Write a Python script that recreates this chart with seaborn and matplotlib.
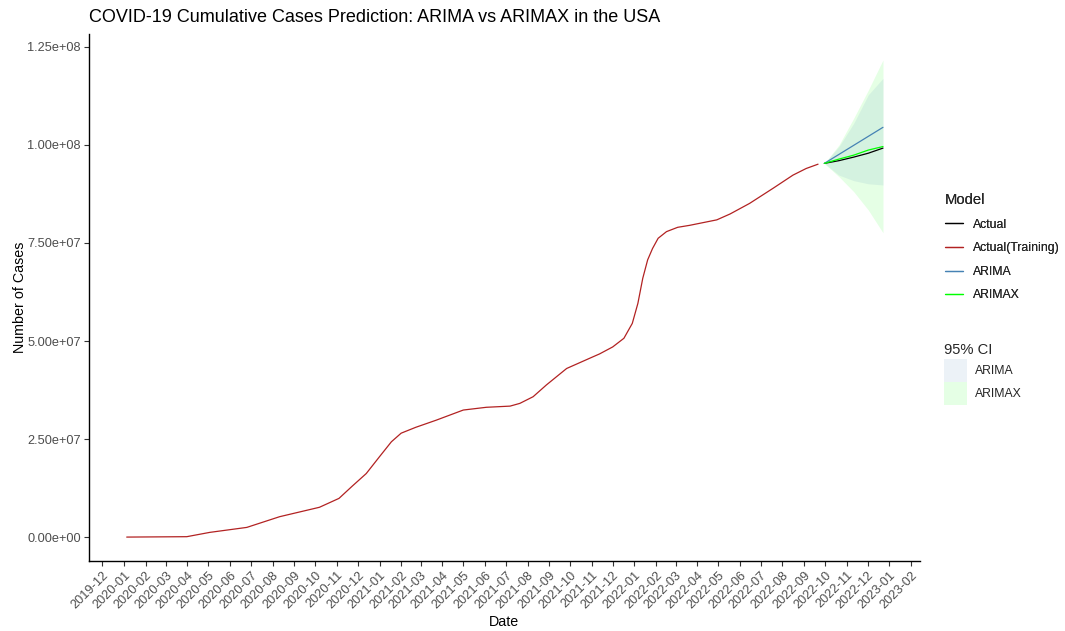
import matplotlib
matplotlib.use("Agg")
import matplotlib.pyplot as plt
from matplotlib.lines import Line2D
from matplotlib.patches import Patch
import seaborn as sns
import pandas as pd

# ---------------- data ----------------
train_dates = ["2020-01-05", "2020-03-31", "2020-05-03", "2020-06-25", "2020-08-11",
               "2020-10-07", "2020-11-04", "2020-11-23", "2020-12-13", "2021-01-01",
               "2021-01-18", "2021-02-01", "2021-02-22", "2021-03-23", "2021-05-01",
               "2021-06-03", "2021-07-07", "2021-07-21", "2021-08-09", "2021-08-28",
               "2021-09-26", "2021-11-03", "2021-11-12", "2021-12-01", "2021-12-17",
               "2021-12-29", "2022-01-06", "2022-01-13", "2022-01-20", "2022-01-27",
               "2022-02-04", "2022-02-16", "2022-03-04", "2022-03-21", "2022-04-29",
               "2022-05-18", "2022-06-15", "2022-07-19", "2022-08-16", "2022-09-04",
               "2022-09-21"]
train_values = [0.0, 0.1e6, 1.2e6, 2.47e6, 5.2e6,
                7.6e6, 9.87e6, 1.30e7, 1.62e7, 2.05e7,
                2.43e7, 2.65e7, 2.80e7, 2.98e7, 3.24e7,
                3.31e7, 3.34e7, 3.41e7, 3.58e7, 3.88e7,
                4.30e7, 4.60e7, 4.67e7, 4.85e7, 5.07e7,
                5.45e7, 5.96e7, 6.60e7, 7.07e7, 7.36e7,
                7.62e7, 7.79e7, 7.90e7, 7.95e7, 8.09e7,
                8.24e7, 8.51e7, 8.90e7, 9.23e7, 9.40e7,
                9.51e7]

fc_dates = ["2022-09-30", "2022-10-21", "2022-11-11", "2022-12-02", "2022-12-23"]
actual_values = [9.53e7, 9.60e7, 9.69e7, 9.79e7, 9.92e7]
arima_values = [9.53e7, 9.76e7, 9.99e7, 1.022e8, 1.045e8]
arimax_values = [9.53e7, 9.64e7, 9.74e7, 9.87e7, 9.96e7]
arima_lower = [9.53e7, 9.23e7, 9.09e7, 9.01e7, 8.98e7]
arima_upper = [9.53e7, 9.96e7, 1.055e8, 1.128e8, 1.170e8]
arimax_lower = [9.53e7, 9.19e7, 8.81e7, 8.34e7, 7.76e7]
arimax_upper = [9.53e7, 1.00e8, 1.068e8, 1.140e8, 1.217e8]

model_names = ["Actual", "Actual(Training)", "ARIMA", "ARIMAX"]
model_colors = ["#000000", "#B22222", "#4682B4", "#00FF00"]
ci_names = ["ARIMA", "ARIMAX"]
ci_colors = ["#4682B4", "#00FF00"]

# ---------------- build frames ----------------
train_df = pd.DataFrame({"Date": pd.to_datetime(train_dates), "Cases": train_values,
                         "Model": "Actual(Training)"})
fc = pd.to_datetime(fc_dates)
lines_df = pd.concat([
    train_df,
    pd.DataFrame({"Date": fc, "Cases": actual_values, "Model": "Actual"}),
    pd.DataFrame({"Date": fc, "Cases": arima_values, "Model": "ARIMA"}),
    pd.DataFrame({"Date": fc, "Cases": arimax_values, "Model": "ARIMAX"}),
], ignore_index=True)

# ---------------- style ----------------
sns.set_theme(style="ticks")
plt.rcParams["font.family"] = ["Liberation Sans", "DejaVu Sans"]

fig = plt.figure(figsize=(10.65, 6.31), dpi=100)
ax = fig.add_axes([89 / 1065, 1 - 561 / 631, (920 - 89) / 1065, (561 - 34) / 631])

ax.fill_between(fc, arimax_lower, arimax_upper, color=ci_colors[1], alpha=0.1, lw=0)
ax.fill_between(fc, arima_lower, arima_upper, color=ci_colors[0], alpha=0.1, lw=0)

palette = dict(zip(model_names, model_colors))
sns.lineplot(data=lines_df, x="Date", y="Cases", hue="Model", palette=palette,
             ax=ax, lw=0.9, legend=False, estimator=None, sort=True)

# ---------------- axes ----------------
ax.set_xlim(pd.Timestamp("2019-11-12"), pd.Timestamp("2023-02-14"))
ax.set_ylim(-6.1e6, 1.283e8)
ticks = pd.date_range("2019-12-01", "2023-02-01", freq="MS")
ax.set_xticks(ticks)
ax.set_xticklabels([t.strftime("%Y-%m") for t in ticks], rotation=45, ha="right",
                   rotation_mode="anchor", fontsize=9.2, color="#4D4D4D")
yt = [0, 2.5e7, 5e7, 7.5e7, 1e8, 1.25e8]
ax.set_yticks(yt)
ax.set_yticklabels([f"{v:.2e}" for v in yt], fontsize=9.2, color="#4D4D4D")
ax.tick_params(axis="both", length=3.5, width=0.8, color="#333333", pad=2.5)
for s in ["top", "right"]:
    ax.spines[s].set_visible(False)
for s in ["left", "bottom"]:
    ax.spines[s].set_linewidth(1.0)
    ax.spines[s].set_color("#000000")

ax.set_xlabel("Date", fontsize=10.3, color="black", labelpad=3)
ax.set_ylabel("Number of Cases", fontsize=10.3, color="black", labelpad=0)
fig.text(89 / 1065, 1 - 18 / 631, "COVID-19 Cumulative Cases Prediction: ARIMA vs ARIMAX in the USA",
         fontsize=13, ha="left", va="center", color="black")

# ---------------- legends ----------------
h1 = [Line2D([0], [0], color=c, lw=0.9) for c in model_colors]
leg1 = fig.legend(h1, model_names, title="Model", loc="upper left",
                  bbox_to_anchor=(934 / 1065, 1 - 182 / 631), frameon=False,
                  fontsize=8.8, title_fontsize=10.6, handlelength=1.5, handletextpad=0.8,
                  labelspacing=0.95, alignment="left")
fig.add_artist(leg1)
h2 = [Patch(facecolor=c, alpha=0.1, edgecolor="none") for c in ci_colors]
leg2 = fig.legend(h2, ci_names, title="95% CI", loc="upper left",
                  bbox_to_anchor=(933 / 1065, 1 - 332 / 631), frameon=False,
                  fontsize=8.8, title_fontsize=10.6, handlelength=1.9, handleheight=2.52,
                  handletextpad=0.6, labelspacing=0.0, alignment="left")
leg2._legend_box.sep = 1.5

fig.savefig("out.png", dpi=100)
